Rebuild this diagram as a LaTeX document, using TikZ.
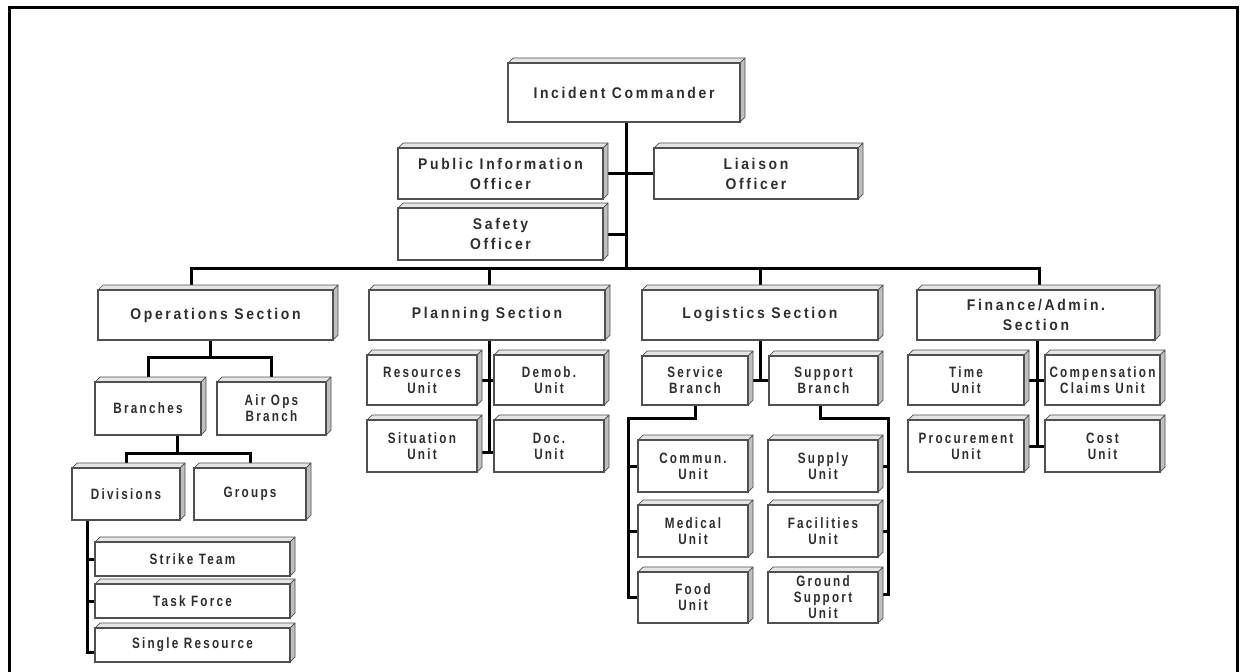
\documentclass[tikz,border=0pt]{standalone}
\usepackage{fontspec}
\usetikzlibrary{backgrounds}
\newfontfamily\bigf{Liberation Sans}[FakeStretch=0.9,LetterSpace=17]
\newfontfamily\smallf{Liberation Sans}[FakeStretch=0.78,LetterSpace=15]
\definecolor{txt}{HTML}{2E2E2E}
\definecolor{boxline}{HTML}{505050}
\tikzset{
  box/.style={draw=boxline, line width=1.2pt, fill=white, inner sep=0pt, outer sep=0pt, align=center, text=txt},
  bigtxt/.style={font=\bigf\bfseries\fontsize{15.5}{20}\selectfont},
  smalltxt/.style={font=\smallf\bfseries\fontsize{15}{16}\selectfont},
  conn/.style={line width=3pt, draw=black},
  topface/.style={fill=gray!20, draw=boxline, line width=0.7pt, line join=round},
  sideface/.style={fill=gray!50, draw=boxline, line width=0.7pt, line join=round},
}
\newcommand\cbox[7]{%
  \filldraw[topface] (#3,#4) -- ++(5,-5) -- ++({#5-#3},0) -- (#5,#4) -- cycle;
  \filldraw[sideface] (#5,#4) -- ++(5,-5) -- ++(0,{#6-#4}) -- (#5,#6) -- cycle;
  \node[box,#1,minimum width={#5-#3},minimum height={#6-#4}] (#2) at ({(#3+#5)/2},{(#4+#6)/2}) {#7};
}
\begin{document}
\begin{tikzpicture}[x=1pt,y=-1pt]
\useasboundingbox (0,0) rectangle (1243,672);
% boxes
\cbox{bigtxt}{ic}{508}{63}{740}{122}{Incident Commander}
\cbox{bigtxt}{pio}{398}{148}{603}{199}{Public Information\\Officer}
\cbox{bigtxt}{so}{398}{208}{603}{260}{Safety\\Officer}
\cbox{bigtxt}{lia}{654}{148}{858}{199}{Liaison\\Officer}
\cbox{bigtxt}{ops}{98}{290}{333}{340}{Operations Section}
\cbox{bigtxt}{plan}{369}{290}{605}{340}{Planning Section}
\cbox{bigtxt}{log}{642}{290}{878}{340}{Logistics Section}
\cbox{bigtxt}{fin}{917}{290}{1155}{340}{Finance/Admin.\\Section}
\cbox{smalltxt}{br}{95}{382}{201}{435}{Branches}
\cbox{smalltxt}{air}{217}{382}{326}{435}{Air Ops\\Branch}
\cbox{smalltxt}{div}{72}{468}{180}{520}{Divisions}
\cbox{smalltxt}{grp}{194}{468}{306}{520}{Groups}
\cbox{smalltxt}{st}{95}{542}{290}{576}{Strike Team}
\cbox{smalltxt}{tf}{95}{584}{290}{618}{Task Force}
\cbox{smalltxt}{sr}{95}{628}{290}{662}{Single Resource}
\cbox{smalltxt}{res}{367}{355}{477}{405}{Resources\\Unit}
\cbox{smalltxt}{dem}{494}{355}{604}{405}{Demob.\\Unit}
\cbox{smalltxt}{sit}{367}{420}{477}{472}{Situation\\Unit}
\cbox{smalltxt}{doc}{494}{420}{604}{472}{Doc.\\Unit}
\cbox{smalltxt}{svc}{642}{356}{748}{405}{Service\\Branch}
\cbox{smalltxt}{sup}{769}{356}{878}{405}{Support\\Branch}
\cbox{smalltxt}{com}{638}{440}{748}{492}{Commun.\\Unit}
\cbox{smalltxt}{med}{638}{505}{748}{557}{Medical\\Unit}
\cbox{smalltxt}{food}{638}{572}{748}{623}{Food\\Unit}
\cbox{smalltxt}{sply}{768}{440}{878}{492}{Supply\\Unit}
\cbox{smalltxt}{fac}{768}{505}{878}{557}{Facilities\\Unit}
\cbox{smalltxt}{gs}{768}{572}{878}{623}{Ground\\Support\\Unit}
\cbox{smalltxt}{time}{908}{355}{1024}{405}{Time\\Unit}
\cbox{smalltxt}{comp}{1045}{355}{1160}{405}{Compensation\\Claims Unit}
\cbox{smalltxt}{proc}{908}{420}{1024}{472}{Procurement\\Unit}
\cbox{smalltxt}{cost}{1045}{420}{1160}{472}{Cost\\Unit}
% connectors
\begin{pgfonlayer}{background}
\fill[white] (0,0) rectangle (1243,672);
\coordinate (bus) at (626,268);
\coordinate (icL) at ([xshift=2pt]ic.south);
\coordinate (opsT) at ([xshift=-24pt]ops.north);
\coordinate (planT) at ([xshift=2pt]plan.north);
\coordinate (finT) at ([xshift=3pt]fin.north);
\draw[conn] (icL) -- (icL |- bus);
\draw[conn] (pio.east) -- (lia.west);
\draw[conn] (so.east) -- (so.east -| icL);
\draw[conn] (opsT) -- (opsT |- bus) -- (finT |- bus) -- (finT);
\draw[conn] (planT) -- (planT |- bus);
\draw[conn] (log.north) -- (log.north |- bus);
% operations
\coordinate (opsJ) at (210,357);
\draw[conn] (ops.south -| opsJ) -- (opsJ);
\draw[conn] (br.north) |- (opsJ) -| (air.north);
\coordinate (brJ) at (177,453);
\draw[conn] (br.south -| brJ) -- (brJ);
\draw[conn] (div.north) |- (brJ) -| (grp.north);
\coordinate (dsp) at (87,0);
\draw[conn] (div.south -| dsp) |- ([yshift=-7pt]sr.west);
\draw[conn] (st.west) -- (st.west -| dsp);
\draw[conn] (tf.west) -- (tf.west -| dsp);
% planning
\coordinate (psp) at (489,452);
\draw[conn] (plan.south -| psp) -- (psp);
\draw[conn] (res.east) -- (dem.west);
\draw[conn] (sit.east |- psp) -- (doc.west |- psp);
% logistics
\draw[conn] (log.south) -- (log.south |- svc.east);
\draw[conn] (svc.east) -- (sup.west);
\coordinate (svJ) at (628,418);
\draw[conn] (svc.south) |- (svJ) |- (food.west);
\draw[conn] (com.west) -- (com.west -| svJ);
\draw[conn] (med.west) -- (med.west -| svJ);
\coordinate (suJ) at (888,418);
\draw[conn] ([xshift=-3pt]sup.south) |- (suJ) |- ([yshift=3pt]gs.east);
\draw[conn] (sply.east) -- (sply.east -| suJ);
\draw[conn] (fac.east) -- (fac.east -| suJ);
% finance
\coordinate (fsp) at (1037,446);
\draw[conn] (fin.south -| fsp) -- (fsp);
\draw[conn] (time.east) -- (comp.west);
\draw[conn] (proc.east) -- (cost.west);
\end{pgfonlayer}
% frame
\draw[line width=3pt] (9,690) -- (9,7) -- (1237,7) -- (1237,690);
\end{tikzpicture}
\end{document}
